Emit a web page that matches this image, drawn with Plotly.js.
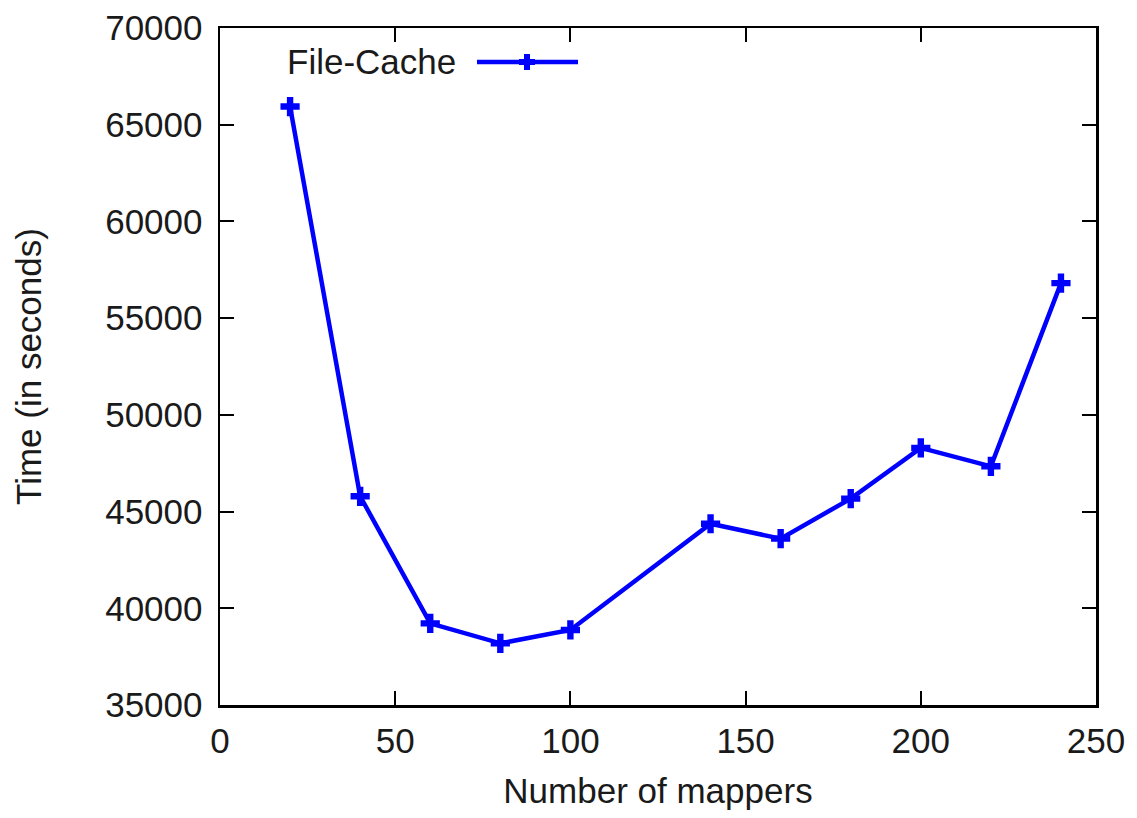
<!DOCTYPE html>
<html>
<head>
<meta charset="utf-8">
<script src="https://cdn.plot.ly/plotly-3.0.1.min.js"></script>
<style>html,body{margin:0;padding:0;background:#fff}#chart{width:1137px;height:818px}</style>
</head>
<body>
<div id="chart"></div>
<script>
var mappers = [20, 40, 60, 80, 100, 140, 160, 180, 200, 220, 240];
var timeSeconds = [65940, 45790, 39220, 38190, 38880, 44370, 43600, 45670, 48290, 47340, 56810];
var seriesName = 'File-Cache';
var xTicks = [0, 50, 100, 150, 200, 250];
var yTicks = [35000, 40000, 45000, 50000, 55000, 60000, 65000, 70000];

var W = 1137, H = 818;
var M = {l: 220, r: 41, t: 28, b: 113};
var pw = W - M.l - M.r, ph = H - M.t - M.b;
function px(x) { return (x - M.l) / pw; }
function py(y) { return 1 - (y - M.t) / ph; }

var blue = '#0000ff';
var fontFam = '"Liberation Sans", Arial, Helvetica, sans-serif';
var txt = '#1a1a1a';
var fs = 35;

var trace = {
  x: mappers, y: timeSeconds, name: seriesName,
  type: 'scatter', mode: 'lines+markers',
  line: {color: blue, width: 4.5},
  marker: {symbol: 'cross', size: 16, color: blue, line: {width: 0}},
  showlegend: false, cliponaxis: false
};

// legend key (text left of sample, as in the reference)
var lx0 = 477, lx1 = 578, lxm = 527, ly = 62, a = 8, t = 3;
var crossPath = 'M' + [
  [lxm - t, ly - a], [lxm + t, ly - a], [lxm + t, ly - t], [lxm + a, ly - t],
  [lxm + a, ly + t], [lxm + t, ly + t], [lxm + t, ly + a], [lxm - t, ly + a],
  [lxm - t, ly + t], [lxm - a, ly + t], [lxm - a, ly - t], [lxm - t, ly - t]
].map(function (p) { return px(p[0]).toFixed(5) + ',' + py(p[1]).toFixed(5); }).join('L') + 'Z';

var layout = {
  width: W, height: H,
  margin: M,
  paper_bgcolor: '#fff', plot_bgcolor: '#fff',
  font: {family: fontFam, size: fs, color: txt},
  showlegend: false,
  xaxis: {
    range: [0, 250], tickvals: xTicks, ticktext: xTicks.map(String),
    ticks: 'inside', ticklen: 14, tickwidth: 2, tickcolor: '#000',
    showline: true, linecolor: '#000', linewidth: 2.5, mirror: 'ticks',
    showgrid: false, zeroline: false,
    ticklabelstandoff: 3,
    tickfont: {family: fontFam, size: fs, color: txt},
    title: {text: 'Number of mappers', font: {family: fontFam, size: fs, color: txt}, standoff: 20},
    automargin: false
  },
  yaxis: {
    range: [35000, 70000], tickvals: yTicks, ticktext: yTicks.map(String),
    ticks: 'inside', ticklen: 14, tickwidth: 2, tickcolor: '#000',
    showline: true, linecolor: '#000', linewidth: 2.5, mirror: 'ticks',
    showgrid: false, zeroline: false,
    ticklabelstandoff: 8,
    tickfont: {family: fontFam, size: fs, color: txt},
    title: {text: 'Time (in seconds)', font: {family: fontFam, size: fs, color: txt}, standoff: 53},
    automargin: false
  },
  shapes: [
    {type: 'line', xref: 'paper', yref: 'paper', x0: px(lx0), x1: px(lx1), y0: py(ly), y1: py(ly),
     line: {color: blue, width: 4.5}},
    {type: 'path', xref: 'paper', yref: 'paper', path: crossPath, fillcolor: blue, line: {width: 0}}
  ],
  annotations: [
    {text: seriesName, xref: 'paper', yref: 'paper', x: px(458), y: py(62),
     xanchor: 'right', yanchor: 'middle', showarrow: false,
     font: {family: fontFam, size: fs, color: txt}}
  ]
};

Plotly.newPlot('chart', [trace], layout, {displayModeBar: false, staticPlot: true});
</script>
</body>
</html>
